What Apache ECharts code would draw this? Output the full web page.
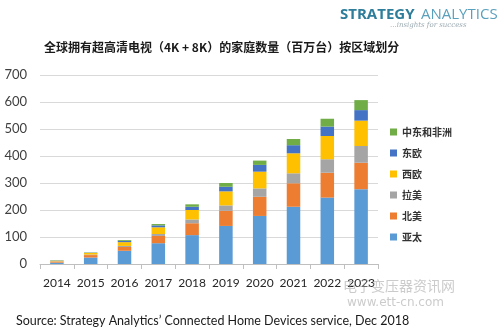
<!DOCTYPE html>
<html><head><meta charset="utf-8">
<script src="https://cdn.jsdelivr.net/npm/echarts@6/dist/echarts.min.js"></script>
<style>html,body{margin:0;padding:0;background:#fff}#c{width:500px;height:334px}</style>
</head><body><div id="c"></div>
<script>
const years = ['2014','2015','2016','2017','2018','2019','2020','2021','2022','2023'];
const asiaPac = [5, 24, 49, 77, 107, 141, 178, 212, 246, 277];
const northAm = [4, 9, 14, 27, 44, 56, 71, 87, 92, 98];
const latAm   = [1, 2, 4, 7, 14, 20, 31, 37, 50, 62];
const westEu  = [2, 6, 14, 25, 35, 52, 62, 74, 86, 94];
const eastEu  = [1, 1, 5, 7, 12, 17, 25, 30, 35, 39];
const mea     = [1, 1, 3, 5, 9, 14, 16, 23, 29, 37];
const seriesNames = ['亚太','北美','拉美','西欧','东欧','中东和非洲'];
const colors = ['#5b9bd5','#ed7d31','#a5a5a5','#ffc000','#4472c4','#70ad47'];
const yTicks = [0,100,200,300,400,500,600,700];

const chart = echarts.init(document.getElementById('c'));
const dataSets = [asiaPac, northAm, latAm, westEu, eastEu, mea];
chart.setOption({
  animation: false,
  textStyle: {fontFamily: 'Lato, "Noto Sans CJK SC", sans-serif'},
  title: [
    {text: '全球拥有超高清电视（4K + 8K）的家庭数量（百万台）按区域划分', left: 39, top: 36,
     textStyle: {fontSize: 12, fontWeight: 'bold', color: '#1a1a1a', fontFamily: '"Noto Sans CJK SC", sans-serif'}},
    {text: 'STRATEGY', left: 335, top: 2,
     textStyle: {fontSize: 15, fontWeight: 'bold', color: '#2e7d9a', fontFamily: '"Open Sans", sans-serif'}},
    {text: 'ANALYTICS', left: 416, top: 2,
     textStyle: {fontSize: 15, fontWeight: 'normal', color: '#5aa0bc', fontFamily: '"Open Sans", sans-serif'}},
    {text: '...insights for success', left: 385, top: 17,
     textStyle: {fontSize: 7, fontStyle: 'italic', fontWeight: 'normal', color: '#9aa9b0', fontFamily: '"DejaVu Serif", serif'}},
    {text: "Source: Strategy Analytics\u2019 Connected Home Devices service, Dec 2018", left: 11, top: 309,
     textStyle: {fontSize: 12.5, fontWeight: 'normal', color: '#1a1a1a', fontFamily: 'Lato, sans-serif'}},
    {text: '电子变压器资讯网', left: 338, top: 274,
     textStyle: {fontSize: 14, fontWeight: 'normal', color: 'rgba(160,160,160,0.55)', fontFamily: '"Noto Sans CJK SC", sans-serif'}},
    {text: 'www.ett-cn.com', left: 342, top: 292,
     textStyle: {fontSize: 12, fontWeight: 'normal', color: 'rgba(160,160,160,0.55)', fontFamily: '"DejaVu Sans", sans-serif'}}
  ],
  legend: {
    orient: 'vertical', left: 385, top: 122, itemWidth: 7, itemHeight: 7, itemGap: 11,
    data: seriesNames.slice().reverse(),
    textStyle: {fontSize: 10, fontWeight: 'bold', color: '#333', fontFamily: '"Noto Sans CJK SC", sans-serif'},
    icon: 'rect'
  },
  grid: {left: 40, right: 122, top: 75, bottom: 70, containLabel: false},
  xAxis: {
    type: 'category', data: years,
    axisLine: {lineStyle: {color: '#bfbfbf'}},
    axisTick: {show: true, alignWithLabel: false, length: 5, lineStyle: {color: '#bfbfbf'}},
    axisLabel: {fontSize: 12, color: '#262626', margin: 13, interval: 0, hideOverlap: false}
  },
  yAxis: {
    type: 'value', min: yTicks[0], max: yTicks[yTicks.length-1], interval: 100,
    axisLine: {show: false}, axisTick: {show: false},
    splitLine: {lineStyle: {color: '#d9d9d9'}},
    axisLabel: {fontSize: 13, color: '#404040', margin: 13}
  },
  series: dataSets.map((d, i) => ({
    name: seriesNames[i], type: 'bar', stack: 'total', data: d, barWidth: '40%',
    itemStyle: {color: colors[i]}
  }))
});
</script></body></html>
